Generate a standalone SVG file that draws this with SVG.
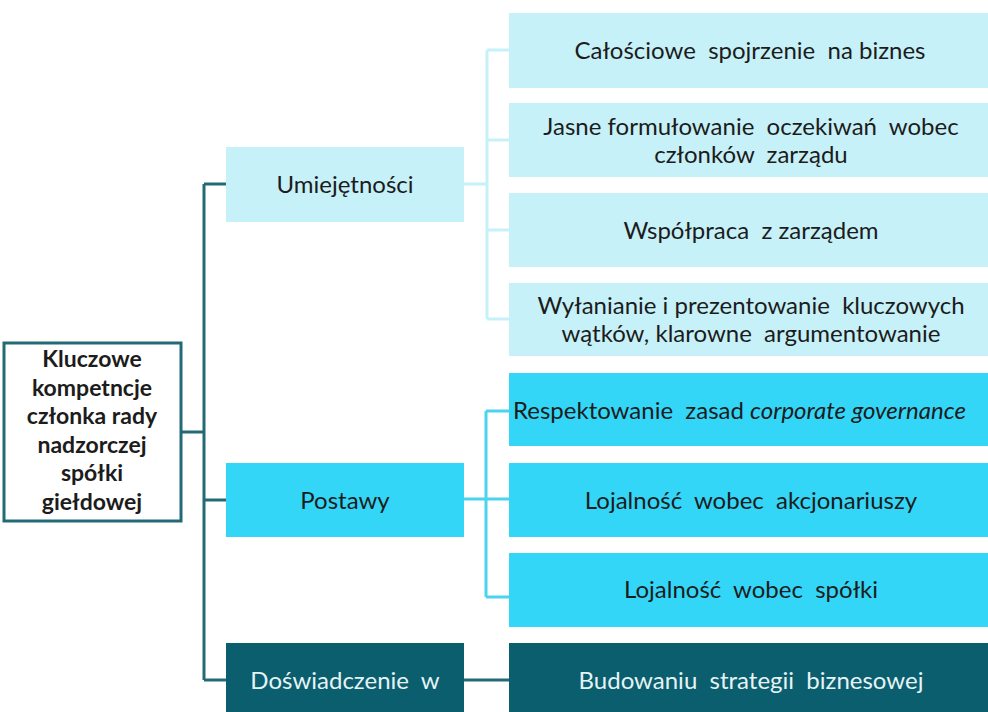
<svg xmlns="http://www.w3.org/2000/svg" width="988" height="712" viewBox="0 0 988 712">
<style>
text{font-family:Lato,"Liberation Sans",sans-serif;font-size:24px;fill:#1c1c1c;text-anchor:middle;white-space:pre}
.root{font-weight:bold;font-size:23px}
.st{text-anchor:start}
.l1{fill:#c6f1f8}
.l2{fill:#33d6f7}
.l3{fill:#0b5e6e}
.w{fill:#e6f3f5}
.cd{stroke:#236a77;stroke-width:3;fill:none}
.cl{stroke:#c6f1f8;stroke-width:3;fill:none}
.cb{stroke:#4cd3ee;stroke-width:3;fill:none}
</style>
<rect width="988" height="712" fill="#ffffff"/>
<g id="connectors">
<path class="cd" d="M181 432H204M204 184V680M204 184H226M204 500H226M204 680H226M464 680H509"/>
<path class="cl" d="M464 184H487M487 50V319M487 50H509M487 140H509M487 230H509M487 319H509"/>
<path class="cb" d="M464 499H509M486 411V597M486 411H509M486 597H509"/>
</g>
<g id="root">
<rect x="4" y="343" width="177" height="178" fill="#ffffff" stroke="#236a77" stroke-width="3"/>
<text class="root" x="92" y="367">Kluczowe</text>
<text class="root" x="92" y="396">kompetncje</text>
<text class="root" x="92" y="424">członka rady</text>
<text class="root" x="92" y="453">nadzorczej</text>
<text class="root" x="92" y="481">spółki</text>
<text class="root" x="92" y="510">giełdowej</text>
</g>
<g id="umiejetnosci">
<rect class="l1" x="226" y="147" width="238" height="75"/>
<text x="345" y="193">Umiejętności</text>
</g>
<g id="postawy">
<rect class="l2" x="226" y="463" width="238" height="74"/>
<text x="345" y="509">Postawy</text>
</g>
<g id="doswiadczenie">
<rect class="l3" x="226" y="643" width="238" height="69"/>
<text class="w" x="345" y="689">Doświadczenie  w</text>
</g>
<g id="u1">
<rect class="l1" x="509" y="13" width="479" height="75"/>
<text x="750" y="59">Całościowe  spojrzenie  na biznes</text>
</g>
<g id="u2">
<rect class="l1" x="509" y="103" width="479" height="74"/>
<text x="751" y="135">Jasne formułowanie  oczekiwań  wobec</text>
<text x="751" y="163">członków  zarządu</text>
</g>
<g id="u3">
<rect class="l1" x="509" y="193" width="479" height="74"/>
<text x="751" y="239">Współpraca  z zarządem</text>
</g>
<g id="u4">
<rect class="l1" x="509" y="283" width="479" height="73"/>
<text x="751" y="314">Wyłanianie i prezentowanie  kluczowych</text>
<text x="751" y="342">wątków, klarowne  argumentowanie</text>
</g>
<g id="p1">
<rect class="l2" x="509" y="373" width="479" height="73"/>
<text class="st" x="513" y="419">Respektowanie  zasad <tspan font-style="italic">corporate governance</tspan></text>
</g>
<g id="p2">
<rect class="l2" x="509" y="463" width="479" height="74"/>
<text x="751" y="509">Lojalność  wobec  akcjonariuszy</text>
</g>
<g id="p3">
<rect class="l2" x="509" y="553" width="479" height="74"/>
<text x="751" y="598">Lojalność  wobec  spółki</text>
</g>
<g id="d1">
<rect class="l3" x="509" y="643" width="479" height="69"/>
<text class="w" x="751" y="689">Budowaniu  strategii  biznesowej</text>
</g>
</svg>
